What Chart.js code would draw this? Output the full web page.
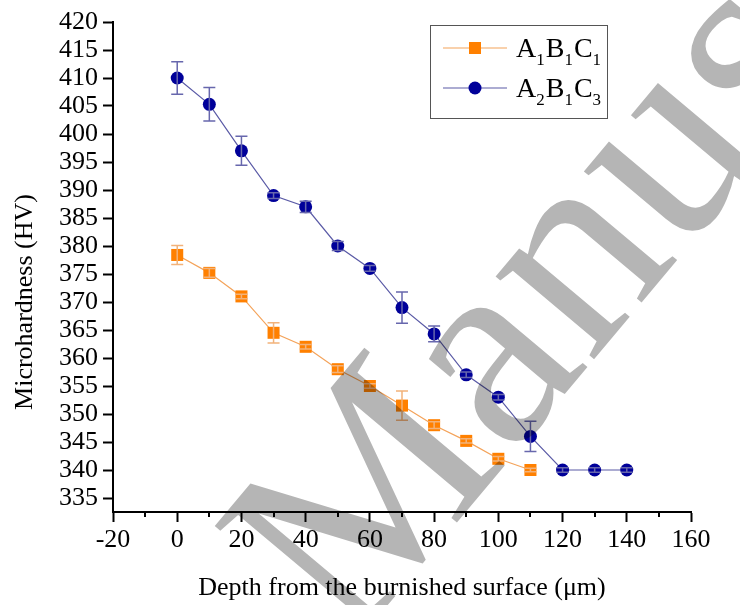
<!DOCTYPE html>
<html>
<head>
<meta charset="utf-8">
<script src="https://cdn.jsdelivr.net/npm/chart.js@4.4.0/dist/chart.umd.min.js"></script>
<style>
  html, body { margin: 0; padding: 0; background: #fff; }
  #wrap { position: relative; width: 740px; height: 605px; }
</style>
</head>
<body>
<div id="wrap"><canvas id="hardnessChart" width="740" height="605"></canvas></div>
<script>
// depth below the burnished surface (µm)
const depth = [0, 10, 20, 30, 40, 50, 60, 70, 80, 90, 100, 110, 120, 130, 140];

// microhardness (HV) and error bars
const hvA1B1C1 = [378.4, 375.2, 371, 364.5, 362, 358, 355, 351.5, 348, 345.2, 342, 340];
const errA1B1C1 = [1.7, 0.8, 0.4, 1.8, 0.4, 0.6, 0.4, 2.6, 0.6, 0.4, 0.4, 0.3];
const hvA2B1C3 = [410, 405.3, 397, 389, 387, 380, 376, 369, 364.3, 357, 353, 346, 340, 340, 340];
const errA2B1C3 = [2.9, 3, 2.6, 0.5, 1, 0.8, 0.5, 2.8, 1.4, 0.5, 0.5, 2.7, 0.4, 0.4, 0.4];

const xTicks = [-20, 0, 20, 40, 60, 80, 100, 120, 140, 160];
const xMinorTicks = [-10, 10, 30, 50, 70, 90, 110, 130, 150];
const yTicks = [335, 340, 345, 350, 355, 360, 365, 370, 375, 380, 385, 390, 395, 400, 405, 410, 415, 420];

const serif = "'Liberation Serif', 'Times New Roman', serif";

const colors = {
  orange: "#ff8000",
  orangeLine: "#f4a35a",
  orangeErr: "#f2b27a",
  blue: "#000099",
  blueLine: "#5a5aa6",
  blueErr: "#6767ad",
};

const toPoints = (ys) => ys.map((y, i) => ({ x: depth[i], y: y }));

// error bars drawn through the chart scales
const errorBars = {
  id: "errorBars",
  afterDatasetsDraw(chart) {
    const { ctx, scales } = chart;
    const sets = [
      { vals: hvA1B1C1, errs: errA1B1C1, color: colors.orangeErr },
      { vals: hvA2B1C3, errs: errA2B1C3, color: colors.blueErr },
    ];
    ctx.save();
    ctx.lineWidth = 1.5;
    sets.forEach((s) => {
      ctx.strokeStyle = s.color;
      s.vals.forEach((v, i) => {
        const px = scales.x.getPixelForValue(depth[i]);
        const top = scales.y.getPixelForValue(v + s.errs[i]);
        const bot = scales.y.getPixelForValue(v - s.errs[i]);
        ctx.beginPath();
        ctx.moveTo(px, top); ctx.lineTo(px, bot);
        ctx.moveTo(px - 6, top); ctx.lineTo(px + 6, top);
        ctx.moveTo(px - 6, bot); ctx.lineTo(px + 6, bot);
        ctx.stroke();
      });
    });
    ctx.restore();
  },
};

// minor ticks, axis titles, legend with subscripts, watermark
const decorations = {
  id: "decorations",
  afterDraw(chart) {
    const { ctx, scales, chartArea } = chart;
    ctx.save();

    // minor ticks on x
    ctx.strokeStyle = "#000";
    ctx.lineWidth = 2;
    xMinorTicks.forEach((v) => {
      const px = Math.round(scales.x.getPixelForValue(v));
      ctx.beginPath();
      ctx.moveTo(px, chartArea.bottom);
      ctx.lineTo(px, chartArea.bottom + 5);
      ctx.stroke();
    });

    // axis titles
    ctx.fillStyle = "#000";
    ctx.font = "26px " + serif;
    ctx.textAlign = "center";
    ctx.textBaseline = "middle";
    ctx.fillText("Depth from the burnished surface (\u03bcm)", (chartArea.left + chartArea.right) / 2, 588);
    ctx.save();
    ctx.translate(25, 302);
    ctx.rotate(-Math.PI / 2);
    ctx.fillText("Microhardness (HV)", 0, 0);
    ctx.restore();

    // legend
    const bx = 430, by = 25, bw = 177, bh = 93;
    ctx.fillStyle = "#fff";
    ctx.fillRect(bx, by, bw, bh);
    ctx.strokeStyle = "#555";
    ctx.lineWidth = 1;
    ctx.strokeRect(bx + 0.5, by + 0.5, bw, bh);

    const rows = [
      { y: 48, line: colors.orangeLine, mark: colors.orange, shape: "rect", parts: [["A", "1"], ["B", "1"], ["C", "1"]] },
      { y: 88, line: colors.blueLine, mark: colors.blue, shape: "circle", parts: [["A", "2"], ["B", "1"], ["C", "3"]] },
    ];
    rows.forEach((r) => {
      ctx.strokeStyle = r.line;
      ctx.lineWidth = 1.2;
      ctx.beginPath();
      ctx.moveTo(443, r.y); ctx.lineTo(507, r.y);
      ctx.stroke();
      ctx.fillStyle = r.mark;
      if (r.shape === "rect") {
        ctx.fillRect(469, r.y - 6, 12, 12);
      } else {
        ctx.beginPath();
        ctx.arc(475, r.y, 6.5, 0, Math.PI * 2);
        ctx.fill();
      }
      let tx = 516;
      ctx.fillStyle = "#000";
      ctx.textAlign = "left";
      ctx.textBaseline = "alphabetic";
      r.parts.forEach(([big, sub]) => {
        ctx.font = "28px " + serif;
        ctx.fillText(big, tx, r.y + 9);
        tx += ctx.measureText(big).width;
        ctx.font = "17px " + serif;
        ctx.fillText(sub, tx, r.y + 17);
        tx += ctx.measureText(sub).width + 1;
      });
    });

    // watermark
    ctx.globalCompositeOperation = "multiply";
    ctx.fillStyle = "#b5b5b5";
    ctx.font = "280px " + serif;
    ctx.textAlign = "left";
    ctx.textBaseline = "alphabetic";
    ctx.translate(350, 650);
    ctx.rotate(-50 * Math.PI / 180);
    ctx.fillText("Manuscript", 0, 0);

    ctx.restore();
  },
};

new Chart(document.getElementById("hardnessChart"), {
  type: "line",
  data: {
    datasets: [
      {
        label: "A1B1C1",
        data: toPoints(hvA1B1C1),
        borderColor: colors.orangeLine,
        borderWidth: 1.2,
        backgroundColor: colors.orange,
        pointBackgroundColor: colors.orange,
        pointBorderColor: colors.orange,
        pointStyle: "rect",
        pointRadius: 8.5,
        pointBorderWidth: 0,
        tension: 0,
      },
      {
        label: "A2B1C3",
        data: toPoints(hvA2B1C3),
        borderColor: colors.blueLine,
        borderWidth: 1.2,
        backgroundColor: colors.blue,
        pointBackgroundColor: colors.blue,
        pointBorderColor: colors.blue,
        pointStyle: "circle",
        pointRadius: 6.5,
        pointBorderWidth: 0,
        tension: 0,
      },
    ],
  },
  options: {
    responsive: false,
    animation: false,
    clip: false,
    layout: { padding: { left: 0, right: 49, top: 22, bottom: 0 } },
    plugins: {
      legend: { display: false },
      tooltip: { enabled: false },
      title: { display: false },
    },
    scales: {
      x: {
        type: "linear",
        min: -20,
        max: 160,
        afterBuildTicks: (axis) => { axis.ticks = xTicks.map((v) => ({ value: v })); },
        afterFit: (axis) => { axis.height = 93; },
        border: { display: true, color: "#000", width: 2 },
        grid: { drawOnChartArea: false, drawTicks: true, tickLength: 10, tickWidth: 2, tickColor: "#000" },
        ticks: { color: "#000", font: { family: serif, size: 26 }, padding: 3, maxRotation: 0, autoSkip: false },
      },
      y: {
        type: "linear",
        min: 332.5,
        max: 420,
        afterBuildTicks: (axis) => { axis.ticks = yTicks.map((v) => ({ value: v })); },
        afterFit: (axis) => { axis.width = 113; },
        border: { display: true, color: "#000", width: 2 },
        grid: { drawOnChartArea: false, drawTicks: true, tickLength: 10, tickWidth: 2, tickColor: "#000" },
        ticks: { color: "#000", font: { family: serif, size: 26 }, padding: 5, autoSkip: false },
      },
    },
  },
  plugins: [errorBars, decorations],
});
</script>
</body>
</html>
